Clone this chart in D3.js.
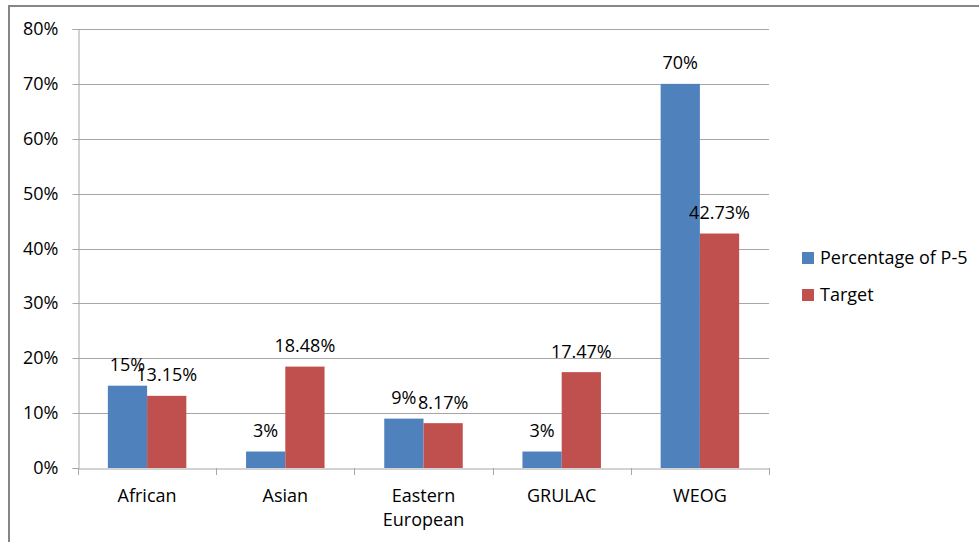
<!DOCTYPE html>
<html>
<head>
<meta charset="utf-8">
<script src="https://cdn.jsdelivr.net/npm/d3@7"></script>
<style>
  html, body { margin: 0; padding: 0; background: #fff; }
  svg { display: block; }
  text { font-family: "Open Sans", "Liberation Sans", sans-serif; fill: #000; }
</style>
</head>
<body>
<script>
// Regional share of P-5 versus target share
const categories = [["African"], ["Asian"], ["Eastern", "European"], ["GRULAC"], ["WEOG"]];
const seriesNames = ["Percentage of P-5", "Target"];
const p5Share = [0.15, 0.03, 0.09, 0.03, 0.70];
const targetShare = [0.1315, 0.1848, 0.0817, 0.1747, 0.4273];
const p5Labels = ["15%", "3%", "9%", "3%", "70%"];
const targetLabels = ["13.15%", "18.48%", "8.17%", "17.47%", "42.73%"];
const yTicks = [0, 0.1, 0.2, 0.3, 0.4, 0.5, 0.6, 0.7, 0.8];
const colors = ["#4F81BD", "#C0504D"];

const W = 979, H = 542;
const plot = { left: 78, right: 769, top: 29, bottom: 468 };

const svg = d3.select("body").append("svg").attr("width", W).attr("height", H);

// chart frame
svg.append("rect")
  .attr("x", 9).attr("y", 6).attr("width", W + 20).attr("height", H + 20)
  .attr("fill", "#fff").attr("stroke", "#868686").attr("stroke-width", 2);

const keys = categories.map(c => c.join(" "));
const x0 = d3.scaleBand().domain(keys).range([plot.left, plot.right]).paddingInner(0).paddingOuter(0);
const barW = x0.bandwidth() * 0.284;
const x1 = d3.scaleBand().domain([0, 1]).range([0, barW * 2]);
const groupOffset = (x0.bandwidth() - barW * 2) / 2;

const y = d3.scaleLinear().domain([0, 0.8]).range([plot.bottom, plot.top]);

// horizontal gridlines
svg.append("g")
  .selectAll("line").data(yTicks.slice(1)).join("line")
  .attr("x1", plot.left).attr("x2", plot.right)
  .attr("y1", d => Math.round(y(d)) + 0.5).attr("y2", d => Math.round(y(d)) + 0.5)
  .attr("stroke", "#a6a6a6").attr("stroke-width", 1);

// y axis
const yAxis = d3.axisLeft(y).tickValues(yTicks).tickFormat(d3.format(".0%")).tickSize(6).tickPadding(14);
const gy = svg.append("g").attr("transform", `translate(${plot.left + 0.5},0)`).call(yAxis);
gy.selectAll("path, line").attr("stroke", "#a6a6a6");
gy.selectAll(".tick").attr("transform", d => `translate(0,${Math.round(y(d)) + 0.5})`);
gy.selectAll("text").attr("font-size", 18).attr("fill", "#000")
  .style("font-family", '"Open Sans", "Liberation Sans", sans-serif');

// bars
const data = keys.map((k, i) => ({ key: k, i, vals: [p5Share[i], targetShare[i]], labels: [p5Labels[i], targetLabels[i]] }));
const groups = svg.append("g").selectAll("g").data(data).join("g")
  .attr("transform", d => `translate(${x0(d.key) + groupOffset},0)`);

groups.selectAll("rect").data(d => d.vals.map((v, s) => ({ v, s }))).join("rect")
  .attr("x", d => x1(d.s))
  .attr("width", x1.bandwidth())
  .attr("y", d => y(d.v))
  .attr("height", d => y(0) - y(d.v))
  .attr("fill", d => colors[d.s]);

groups.selectAll("text").data(d => d.vals.map((v, s) => ({ v, s, label: d.labels[s] }))).join("text")
  .attr("x", d => x1(d.s) + x1.bandwidth() / 2)
  .attr("y", d => y(d.v) - 14.5)
  .attr("text-anchor", "middle")
  .attr("font-size", 18)
  .text(d => d.label);

// x axis
const xAxis = d3.axisBottom(x0).tickValues([]).tickSizeOuter(0);
const gx = svg.append("g").attr("transform", `translate(0,${plot.bottom + 0.5})`).call(xAxis);
gx.select("path").attr("stroke", "#a6a6a6");
// category separators
svg.append("g").selectAll("line").data(d3.range(keys.length + 1)).join("line")
  .attr("x1", i => Math.round(plot.left + i * x0.step()) + 0.5)
  .attr("x2", i => Math.round(plot.left + i * x0.step()) + 0.5)
  .attr("y1", plot.bottom).attr("y2", plot.bottom + 7)
  .attr("stroke", "#a6a6a6");

// category labels
const catText = svg.append("g").selectAll("text").data(categories).join("text")
  .attr("text-anchor", "middle")
  .attr("font-size", 18)
  .attr("x", (c, i) => x0(keys[i]) + x0.bandwidth() / 2)
  .attr("y", 502);
catText.selectAll("tspan").data(c => c).join("tspan")
  .attr("x", function () { return this.parentNode.getAttribute("x"); })
  .attr("dy", (t, j) => j === 0 ? 0 : 24)
  .text(t => t);

// legend
const legend = svg.append("g").selectAll("g").data(seriesNames).join("g")
  .attr("transform", (d, i) => `translate(802,${252 + i * 37})`);
legend.append("rect").attr("width", 12).attr("height", 12).attr("fill", (d, i) => colors[i]);
legend.append("text").attr("x", 18).attr("y", 11.5).attr("font-size", 18).text(d => d);
</script>
</body>
</html>
